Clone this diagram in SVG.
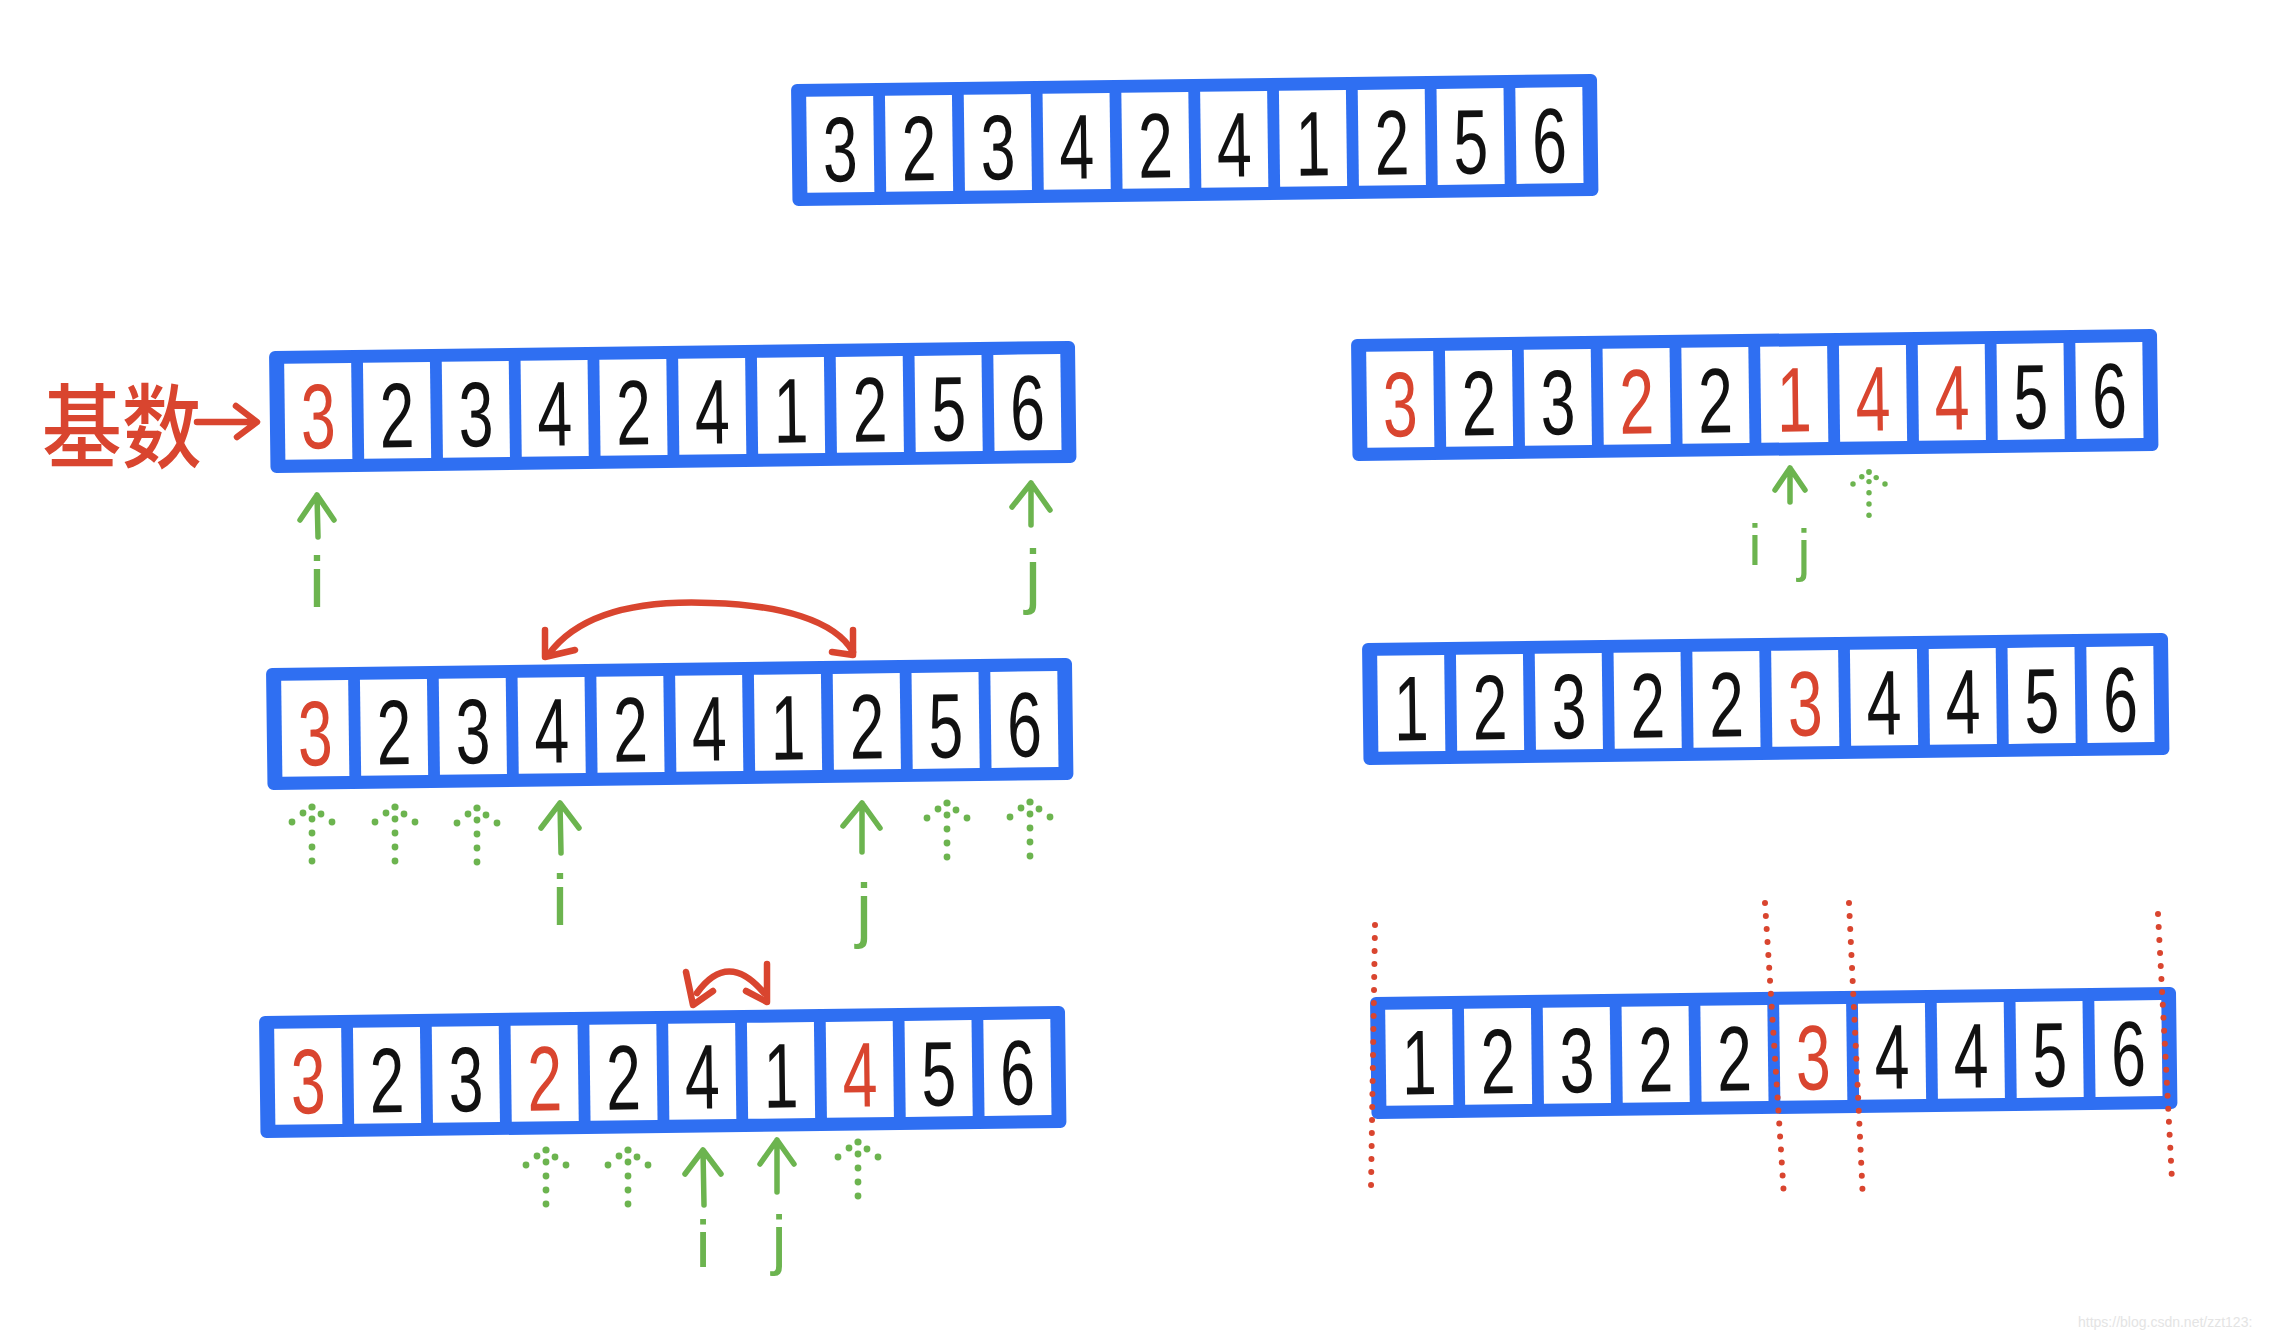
<svg xmlns="http://www.w3.org/2000/svg" xmlns:xlink="http://www.w3.org/1999/xlink" width="2294" height="1340" viewBox="0 0 2294 1340">
<style>
.d{font-family:"Liberation Sans",Arial,sans-serif;font-size:92px;fill:#111;text-anchor:middle}
.d.r{fill:#d9452f}
.lbl{font-family:"Liberation Sans",Arial,sans-serif;fill:#6cb44f;text-anchor:middle}
.g{fill:none;stroke:#6cb44f;stroke-width:5.5;stroke-linecap:round;stroke-linejoin:round}
.rd{fill:none;stroke:#d9452f;stroke-width:6.5;stroke-linecap:round;stroke-linejoin:round}
.rdot{fill:none;stroke:#d9452f;stroke-width:6;stroke-linecap:round;stroke-dasharray:0 13}
.wm{font-family:"Liberation Sans",Arial,sans-serif;font-size:14px;fill:#e4e4e4}
</style>
<defs>
<g id="cells">
<rect x="0" y="0" width="806" height="122" rx="6" fill="#2f6ff2"/>
<g fill="#fff">
<rect x="15" y="13" width="67" height="96"/>
<rect x="93.8" y="13" width="67" height="96"/>
<rect x="172.6" y="13" width="67" height="96"/>
<rect x="251.4" y="13" width="67" height="96"/>
<rect x="330.2" y="13" width="67" height="96"/>
<rect x="409" y="13" width="67" height="96"/>
<rect x="487.8" y="13" width="67" height="96"/>
<rect x="566.6" y="13" width="67" height="96"/>
<rect x="645.4" y="13" width="67" height="96"/>
<rect x="724.2" y="13" width="67" height="96"/>
</g>
</g>
<g id="darrow" fill="#6cb44f">
<circle cx="0" cy="0" r="3.6"/><circle cx="-9" cy="6" r="3.4"/><circle cx="9" cy="7" r="3.4"/>
<circle cx="-20" cy="15" r="3.4"/><circle cx="20" cy="15" r="3.4"/>
<circle cx="0" cy="12" r="3.4"/><circle cx="0" cy="26" r="3.4"/><circle cx="0" cy="40" r="3.4"/><circle cx="0" cy="54" r="3.4"/>
</g>
</defs>

<g id="array-top" transform="translate(791 84) rotate(-0.72)">
<use href="#cells"/>
<g transform="scale(.68 1)">
<text class="d" x="71.3" y="98">3</text><text class="d" x="187.2" y="98">2</text><text class="d" x="303.1" y="98">3</text><text class="d" x="419" y="98">4</text><text class="d" x="534.9" y="98">2</text><text class="d" x="650.7" y="98">4</text><text class="d" x="766.6" y="98">1</text><text class="d" x="882.5" y="98">2</text><text class="d" x="998.4" y="98">5</text><text class="d" x="1114.3" y="98">6</text>
</g>
</g>

<g id="pivot-label">
<text transform="translate(42 461) scale(.95 1.1)" font-family="'Noto Sans CJK SC',sans-serif" font-size="84" font-weight="500" fill="#d9452f">基数</text>
</g>

<g id="array-step1" transform="translate(269 351) rotate(-0.72)">
<use href="#cells"/>
<g transform="scale(.68 1)">
<text class="d r" x="71.3" y="98">3</text><text class="d" x="187.2" y="98">2</text><text class="d" x="303.1" y="98">3</text><text class="d" x="419" y="98">4</text><text class="d" x="534.9" y="98">2</text><text class="d" x="650.7" y="98">4</text><text class="d" x="766.6" y="98">1</text><text class="d" x="882.5" y="98">2</text><text class="d" x="998.4" y="98">5</text><text class="d" x="1114.3" y="98">6</text>
</g>
</g>

<g id="array-step2" transform="translate(266 668) rotate(-0.72)">
<use href="#cells"/>
<g transform="scale(.68 1)">
<text class="d r" x="71.3" y="98">3</text><text class="d" x="187.2" y="98">2</text><text class="d" x="303.1" y="98">3</text><text class="d" x="419" y="98">4</text><text class="d" x="534.9" y="98">2</text><text class="d" x="650.7" y="98">4</text><text class="d" x="766.6" y="98">1</text><text class="d" x="882.5" y="98">2</text><text class="d" x="998.4" y="98">5</text><text class="d" x="1114.3" y="98">6</text>
</g>
</g>

<g id="array-step3" transform="translate(259 1016) rotate(-0.72)">
<use href="#cells"/>
<g transform="scale(.68 1)">
<text class="d r" x="71.3" y="98">3</text><text class="d" x="187.2" y="98">2</text><text class="d" x="303.1" y="98">3</text><text class="d r" x="419" y="98">2</text><text class="d" x="534.9" y="98">2</text><text class="d" x="650.7" y="98">4</text><text class="d" x="766.6" y="98">1</text><text class="d r" x="882.5" y="98">4</text><text class="d" x="998.4" y="98">5</text><text class="d" x="1114.3" y="98">6</text>
</g>
</g>

<g id="array-step4" transform="translate(1351 339) rotate(-0.72)">
<use href="#cells"/>
<g transform="scale(.68 1)">
<text class="d r" x="71.3" y="98">3</text><text class="d" x="187.2" y="98">2</text><text class="d" x="303.1" y="98">3</text><text class="d r" x="419" y="98">2</text><text class="d" x="534.9" y="98">2</text><text class="d r" x="650.7" y="98">1</text><text class="d r" x="766.6" y="98">4</text><text class="d r" x="882.5" y="98">4</text><text class="d" x="998.4" y="98">5</text><text class="d" x="1114.3" y="98">6</text>
</g>
</g>

<g id="array-step5" transform="translate(1362 643) rotate(-0.72)">
<use href="#cells"/>
<g transform="scale(.68 1)">
<text class="d" x="71.3" y="98">1</text><text class="d" x="187.2" y="98">2</text><text class="d" x="303.1" y="98">3</text><text class="d" x="419" y="98">2</text><text class="d" x="534.9" y="98">2</text><text class="d r" x="650.7" y="98">3</text><text class="d" x="766.6" y="98">4</text><text class="d" x="882.5" y="98">4</text><text class="d" x="998.4" y="98">5</text><text class="d" x="1114.3" y="98">6</text>
</g>
</g>

<g id="array-step6" transform="translate(1370 997) rotate(-0.72)">
<use href="#cells"/>
<g transform="scale(.68 1)">
<text class="d" x="71.3" y="98">1</text><text class="d" x="187.2" y="98">2</text><text class="d" x="303.1" y="98">3</text><text class="d" x="419" y="98">2</text><text class="d" x="534.9" y="98">2</text><text class="d r" x="650.7" y="98">3</text><text class="d" x="766.6" y="98">4</text><text class="d" x="882.5" y="98">4</text><text class="d" x="998.4" y="98">5</text><text class="d" x="1114.3" y="98">6</text>
</g>
</g>

<g id="partition-lines">
<path class="rdot" d="M1375 925 L1371 1188"/>
<path class="rdot" d="M1765 903 L1784 1197"/>
<path class="rdot" d="M1849 903 L1863 1201"/>
<path class="rdot" d="M2158 914 L2172 1180"/>
</g>

<g id="connectors">
<path class="rd" d="M197 422 H256 M236 406 L257 422 L237 437"/>
<path class="rd" d="M549 654 C580 612 640 600 711 603 C780 605 835 620 853 652"/>
<path class="rd" d="M545 630 L545 657 L575 650 M853 630 L853 655 L832 652"/>
<path class="rd" d="M697 993 Q728 950 764 993"/>
<path class="rd" d="M686 972 L693 1005 L713 991 M767 964 L767 1002 L746 991"/>
<path class="g" d="M317 495 L318 537 M300 520 L317 495 L334 520"/>
<path class="g" d="M1031 483 L1031 525 M1012 507 L1031 483 L1050 510"/>
<path class="g" d="M560 803 L561 853 M541 828 L560 803 L579 828"/>
<path class="g" d="M862 803 L862 852 M843 826 L862 803 L880 828"/>
<path class="g" d="M703 1150 L704 1205 M685 1174 L703 1150 L721 1174"/>
<path class="g" d="M777 1140 L777 1192 M760 1164 L777 1140 L794 1164"/>
<path class="g" d="M1790 468 L1790 502 M1775 490 L1790 468 L1805 490"/>
<use href="#darrow" x="312" y="807"/>
<use href="#darrow" x="395" y="807"/>
<use href="#darrow" x="477" y="808"/>
<use href="#darrow" x="947" y="803"/>
<use href="#darrow" x="1030" y="802"/>
<use href="#darrow" x="546" y="1150"/>
<use href="#darrow" x="628" y="1150"/>
<use href="#darrow" x="858" y="1142"/>
<use href="#darrow" transform="translate(1869 472) scale(.8)"/>
</g>

<g id="pointer-labels">
<text class="lbl" x="317" y="607" font-size="72">i</text>
<text class="lbl" x="1033" y="600" font-size="72">j</text>
<text class="lbl" x="560" y="925" font-size="72">i</text>
<text class="lbl" x="864" y="934" font-size="72">j</text>
<text class="lbl" x="703" y="1267" font-size="66">i</text>
<text class="lbl" x="779" y="1262" font-size="66">j</text>
<text class="lbl" x="1755" y="565" font-size="58">i</text>
<text class="lbl" x="1804" y="570" font-size="58">j</text>
</g>

<text class="wm" x="2078" y="1327">https://blog.csdn.net/zzt123:</text>
</svg>
